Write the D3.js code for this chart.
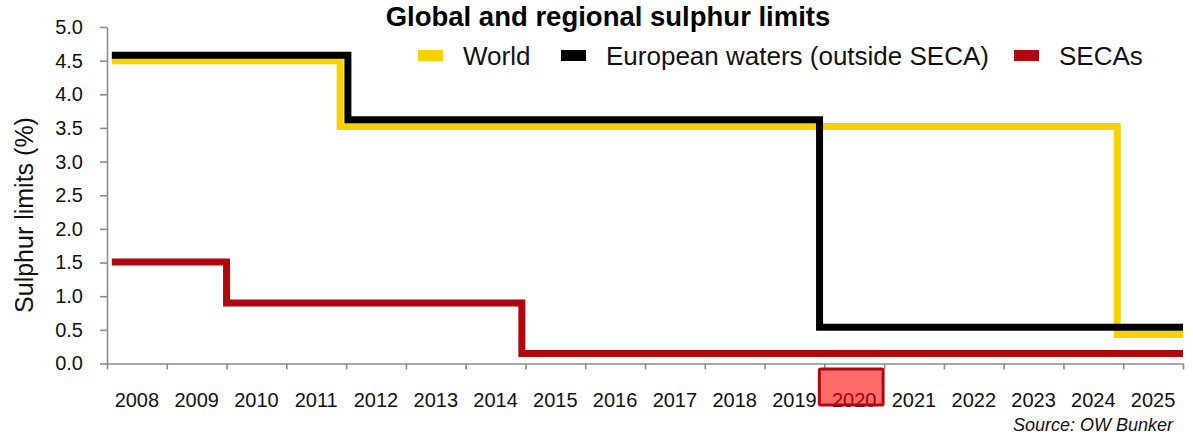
<!DOCTYPE html>
<html>
<head>
<meta charset="utf-8">
<script src="https://cdn.jsdelivr.net/npm/d3@7"></script>
<style>
  html, body { margin: 0; padding: 0; background: #fff; }
  svg { display: block; font-family: "Liberation Sans", Arial, sans-serif; }
</style>
</head>
<body>
<svg id="chart" width="1193" height="434"></svg>
<script>
// ---- Data ----
const years = ["2008","2009","2010","2011","2012","2013","2014","2015","2016","2017","2018","2019","2020","2021","2022","2023","2024","2025"];
const yTicks = [0, 0.5, 1.0, 1.5, 2.0, 2.5, 3.0, 3.5, 4.0, 4.5, 5.0];
const seriesNames = ["World", "European waters (outside SECA)", "SECAs"];
// step change points: [time in years, limit %]
const worldSteps = [[2008.08, 4.5], [2011.9, 3.52], [2024.9, 0.43], [2026, 0.43]];
const europeSteps = [[2008.08, 4.58], [2012.03, 3.62], [2019.92, 0.54], [2026, 0.54]];
const secaSteps = [[2008.08, 1.51], [2010.0, 0.9], [2014.94, 0.15], [2026, 0.15]];
const highlightYear = "2020";
const titleText = "Global and regional sulphur limits";
const yTitle = "Sulphur limits (%)";
const sourceText = "Source: OW Bunker";

// ---- Layout ----
const mLeft = 107, mRight = 1183, mTop = 27, mBottom = 363.5;
const colors = { world: "#F8D200", europe: "#000000", seca: "#B0070E" };

const svg = d3.select("#chart");

const xLin = d3.scaleLinear().domain([2008, 2026]).range([mLeft, mRight]);
const xBand = d3.scaleBand().domain(years).range([mLeft, mRight]).padding(0);
const y = d3.scaleLinear().domain([0, 5]).range([mBottom, mTop]);

// Y axis
const yAxis = svg.append("g")
  .attr("transform", `translate(${mLeft},0)`)
  .call(d3.axisLeft(y).tickValues(yTicks).tickFormat(d3.format(".1f")).tickSize(7).tickPadding(17).tickSizeOuter(0));
yAxis.select(".domain").attr("stroke", "#8c8c8c").attr("stroke-width", 1.6);
yAxis.selectAll(".tick line").attr("stroke", "#8c8c8c").attr("stroke-width", 1.6);
yAxis.selectAll(".tick text").attr("font-size", 20).attr("fill", "#111").attr("font-family", "Liberation Sans, Arial, sans-serif");

// X axis (tick marks at year boundaries)
const xAxis = svg.append("g")
  .attr("transform", `translate(0,${mBottom})`)
  .call(d3.axisBottom(xLin).tickValues(d3.range(2008, 2027)).tickFormat("").tickSize(6).tickSizeOuter(0));
xAxis.select(".domain").attr("stroke", "#8c8c8c").attr("stroke-width", 1.6);
xAxis.selectAll(".tick line").attr("stroke", "#8c8c8c").attr("stroke-width", 1.6);

// X labels centred in each year band
svg.append("g").selectAll("text")
  .data(years).join("text")
  .attr("x", d => xBand(d) + xBand.bandwidth() / 2)
  .attr("y", 407)
  .attr("text-anchor", "middle")
  .attr("font-size", 20)
  .attr("fill", "#111")
  .text(d => d);

// Lines
const line = d3.line()
  .x(d => xLin(d[0]))
  .y(d => y(d[1]))
  .curve(d3.curveStepAfter);

const drawSeries = (data, color) => svg.append("path")
  .datum(data)
  .attr("d", line)
  .attr("fill", "none")
  .attr("stroke", color)
  .attr("stroke-width", 7)
  .attr("stroke-linejoin", "miter");

drawSeries(worldSteps, colors.world);
drawSeries(europeSteps, colors.europe);
drawSeries(secaSteps, colors.seca);

// Highlight box around 2020 label
svg.append("rect")
  .attr("x", xBand(highlightYear) - 5)
  .attr("y", 369)
  .attr("width", xBand.bandwidth() + 4)
  .attr("height", 36)
  .attr("fill", "rgba(255,0,0,0.58)")
  .attr("stroke", "#B0070E")
  .attr("stroke-width", 3)
  .attr("rx", 1.5);

// Title
svg.append("text")
  .attr("x", 608).attr("y", 26)
  .attr("text-anchor", "middle")
  .attr("font-size", 27.5)
  .attr("font-weight", "bold")
  .attr("fill", "#000")
  .text(titleText);

// Legend
const legendItems = [
  { name: seriesNames[0], color: colors.world, x: 418 },
  { name: seriesNames[1], color: colors.europe, x: 561 },
  { name: seriesNames[2], color: colors.seca, x: 1014 }
];
const lg = svg.append("g").selectAll("g").data(legendItems).join("g")
  .attr("transform", d => `translate(${d.x},0)`);
lg.append("rect").attr("x", 0).attr("y", 50).attr("width", 25).attr("height", 11).attr("fill", d => d.color);
lg.append("text").attr("x", 45).attr("y", 65).attr("font-size", 26).attr("fill", "#111").text(d => d.name);

// Y axis title
svg.append("text")
  .attr("transform", `translate(33,215) rotate(-90)`)
  .attr("text-anchor", "middle")
  .attr("font-size", 25)
  .attr("fill", "#111")
  .text(yTitle);

// Source
svg.append("text")
  .attr("x", 1173).attr("y", 431)
  .attr("text-anchor", "end")
  .attr("font-size", 18)
  .attr("font-style", "italic")
  .attr("fill", "#111")
  .text(sourceText);
</script>
</body>
</html>
